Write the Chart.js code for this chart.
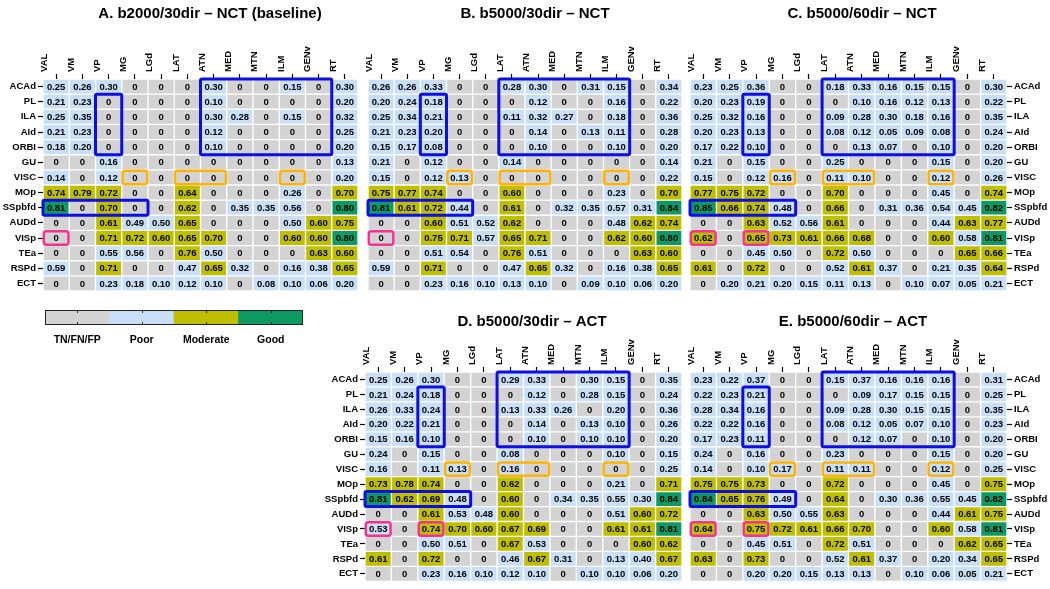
<!DOCTYPE html>
<html>
<head>
<meta charset="utf-8">
<script src="https://cdn.jsdelivr.net/npm/chart.js@4.4.1/dist/chart.umd.min.js"></script>
<style>
html,body{margin:0;padding:0;background:#fff;width:1050px;height:589px;overflow:hidden;}
canvas{position:absolute;}
</style>
</head>
<body>
<canvas id="cA" width="420" height="300" style="left:0px;top:0px;"></canvas>
<canvas id="cB" width="350" height="300" style="left:360px;top:0px;"></canvas>
<canvas id="cC" width="376" height="300" style="left:674px;top:0px;"></canvas>
<canvas id="cD" width="424" height="281" style="left:320px;top:308px;"></canvas>
<canvas id="cE" width="394" height="281" style="left:656px;top:308px;"></canvas>
<canvas id="cL" width="270" height="45" style="left:40px;top:305px;"></canvas>
<script>
// ---------- DATA ----------
const columns = ['VAL','VM','VP','MG','LGd','LAT','ATN','MED','MTN','ILM','GENv','RT'];
const rows = ['ACAd','PL','ILA','AId','ORBI','GU','VISC','MOp','SSpbfd','AUDd','VISp','TEa','RSPd','ECT'];
const legendLabels = ['TN/FN/FP','Poor','Moderate','Good'];

const titleA = 'A. b2000/30dir \u2013 NCT (baseline)';
const titleB = 'B. b5000/30dir \u2013 NCT';
const titleC = 'C. b5000/60dir \u2013 NCT';
const titleD = 'D. b5000/30dir \u2013 ACT';
const titleE = 'E. b5000/60dir \u2013 ACT';

const valuesA = [
  [0.25,0.26,0.30,0,0,0,0.30,0,0,0.15,0,0.30],
  [0.21,0.23,0,0,0,0,0.10,0,0,0,0,0.20],
  [0.25,0.35,0,0,0,0,0.30,0.28,0,0.15,0,0.32],
  [0.21,0.23,0,0,0,0,0.12,0,0,0,0,0.25],
  [0.18,0.20,0,0,0,0,0.10,0,0,0,0,0.20],
  [0,0,0.16,0,0,0,0,0,0,0,0,0.13],
  [0.14,0,0.12,0,0,0,0,0,0,0,0,0.20],
  [0.74,0.79,0.72,0,0,0.64,0,0,0,0.26,0,0.70],
  [0.81,0,0.70,0,0,0.62,0,0.35,0.35,0.56,0,0.80],
  [0,0,0.61,0.49,0.50,0.65,0,0,0,0.50,0.60,0.75],
  [0,0,0.71,0.72,0.60,0.65,0.70,0,0,0.60,0.60,0.80],
  [0,0,0.55,0.56,0,0.76,0.50,0,0,0,0.63,0.60],
  [0.59,0,0.71,0,0,0.47,0.65,0.32,0,0.16,0.38,0.65],
  [0,0,0.23,0.18,0.10,0.12,0.10,0,0.08,0.10,0.06,0.20]
];
const valuesB = [
  [0.26,0.26,0.33,0,0,0.28,0.30,0,0.31,0.15,0,0.34],
  [0.20,0.24,0.18,0,0,0,0.12,0,0,0.16,0,0.22],
  [0.25,0.34,0.21,0,0,0.11,0.32,0.27,0,0.18,0,0.36],
  [0.21,0.23,0.20,0,0,0,0.14,0,0.13,0.11,0,0.28],
  [0.15,0.17,0.08,0,0,0,0.10,0,0,0.10,0,0.20],
  [0.21,0,0.12,0,0,0.14,0,0,0,0,0,0.14],
  [0.15,0,0.12,0.13,0,0,0,0,0,0,0,0.22],
  [0.75,0.77,0.74,0,0,0.60,0,0,0,0.23,0,0.70],
  [0.81,0.61,0.72,0.44,0,0.61,0,0.32,0.35,0.57,0.31,0.84],
  [0,0,0.60,0.51,0.52,0.62,0,0,0,0.48,0.62,0.74],
  [0,0,0.75,0.71,0.57,0.65,0.71,0,0,0.62,0.60,0.80],
  [0,0,0.51,0.54,0,0.76,0.51,0,0,0,0.63,0.60],
  [0.59,0,0.71,0,0,0.47,0.65,0.32,0,0.16,0.38,0.65],
  [0,0,0.23,0.16,0.10,0.13,0.10,0,0.09,0.10,0.06,0.20]
];
const valuesC = [
  [0.23,0.25,0.36,0,0,0.18,0.33,0.16,0.15,0.15,0,0.30],
  [0.20,0.23,0.19,0,0,0,0.10,0.16,0.12,0.13,0,0.22],
  [0.25,0.32,0.16,0,0,0.09,0.28,0.30,0.18,0.16,0,0.35],
  [0.20,0.23,0.13,0,0,0.08,0.12,0.05,0.09,0.08,0,0.24],
  [0.17,0.22,0.10,0,0,0,0.13,0.07,0,0.10,0,0.20],
  [0.21,0,0.15,0,0,0.25,0,0,0,0.15,0,0.20],
  [0.15,0,0.12,0.16,0,0.11,0.10,0,0,0.12,0,0.26],
  [0.77,0.75,0.72,0,0,0.70,0,0,0,0.45,0,0.74],
  [0.85,0.66,0.74,0.48,0,0.66,0,0.31,0.36,0.54,0.45,0.82],
  [0,0,0.63,0.52,0.56,0.61,0,0,0,0.44,0.63,0.77],
  [0.62,0,0.65,0.73,0.61,0.66,0.68,0,0,0.60,0.58,0.81],
  [0,0,0.45,0.50,0,0.72,0.50,0,0,0,0.65,0.66],
  [0.61,0,0.72,0,0,0.52,0.61,0.37,0,0.21,0.35,0.64],
  [0,0.20,0.21,0.20,0.15,0.11,0.13,0,0.10,0.07,0.05,0.21]
];
const valuesD = [
  [0.25,0.26,0.30,0,0,0.29,0.33,0,0.30,0.15,0,0.35],
  [0.21,0.24,0.18,0,0,0,0.12,0,0.28,0.15,0,0.24],
  [0.26,0.33,0.24,0,0,0.13,0.33,0.26,0,0.20,0,0.36],
  [0.20,0.22,0.21,0,0,0,0.14,0,0.13,0.10,0,0.26],
  [0.15,0.16,0.10,0,0,0,0.10,0,0.10,0.10,0,0.20],
  [0.24,0,0.15,0,0,0.08,0,0,0,0.10,0,0.15],
  [0.16,0,0.11,0.13,0,0.16,0,0,0,0,0,0.25],
  [0.73,0.78,0.74,0,0,0.62,0,0,0,0.21,0,0.71],
  [0.81,0.62,0.69,0.48,0,0.60,0,0.34,0.35,0.55,0.30,0.84],
  [0,0,0.61,0.53,0.48,0.60,0,0,0,0.51,0.60,0.72],
  [0.53,0,0.74,0.70,0.60,0.67,0.69,0,0,0.61,0.61,0.81],
  [0,0,0.50,0.51,0,0.67,0.53,0,0,0,0.60,0.62],
  [0.61,0,0.72,0,0,0.46,0.67,0.31,0,0.13,0.40,0.67],
  [0,0,0.23,0.16,0.10,0.12,0.10,0,0.10,0.10,0.06,0.20]
];
const valuesE = [
  [0.23,0.22,0.37,0,0,0.15,0.37,0.16,0.16,0.16,0,0.31],
  [0.22,0.23,0.21,0,0,0,0.09,0.17,0.15,0.15,0,0.25],
  [0.28,0.34,0.16,0,0,0.09,0.28,0.30,0.15,0.15,0,0.35],
  [0.22,0.22,0.16,0,0,0.08,0.12,0.05,0.07,0.10,0,0.23],
  [0.17,0.23,0.11,0,0,0,0.12,0.07,0,0.10,0,0.20],
  [0.24,0,0.16,0,0,0.23,0,0,0,0.15,0,0.20],
  [0.14,0,0.10,0.17,0,0.11,0.11,0,0,0.12,0,0.25],
  [0.75,0.75,0.73,0,0,0.72,0,0,0,0.45,0,0.75],
  [0.84,0.65,0.76,0.49,0,0.64,0,0.30,0.36,0.55,0.45,0.82],
  [0,0,0.63,0.50,0.55,0.63,0,0,0,0.44,0.61,0.75],
  [0.64,0,0.75,0.72,0.61,0.66,0.70,0,0,0.60,0.58,0.81],
  [0,0,0.45,0.51,0,0.72,0.51,0,0,0,0.62,0.65],
  [0.63,0,0.73,0,0,0.52,0.61,0.37,0,0.20,0.34,0.65],
  [0,0,0.20,0.20,0.15,0.13,0.13,0,0.10,0.06,0.05,0.21]
];

// highlight boxes: [firstCol, lastCol, firstRow, lastRow, kind]
const boxesA = [[6,10,0,4,'blue'],[2,2,1,4,'blue'],[0,3,8,8,'blue'],[3,3,6,6,'orange'],[5,6,6,6,'orange'],[9,9,6,6,'orange'],[0,0,10,10,'pink']];
const boxesB = [[5,9,0,4,'blue'],[2,2,1,4,'blue'],[0,3,8,8,'blue'],[3,3,6,6,'orange'],[5,6,6,6,'orange'],[9,9,6,6,'orange'],[0,0,10,10,'pink']];
const boxesC = [[5,9,0,4,'blue'],[2,2,1,4,'blue'],[0,3,8,8,'blue'],[3,3,6,6,'orange'],[5,6,6,6,'orange'],[9,9,6,6,'orange'],[0,0,10,10,'pink'],[2,2,10,10,'pink']];
const boxesD = boxesC;
const boxesE = boxesC;

// ---------- STYLE ----------
const FAM = "'Liberation Sans', Arial, Helvetica, sans-serif";
const COL_NONE = '#d3d3d3', COL_POOR = '#c9dff7', COL_MOD = '#bfbf00', COL_GOOD = '#0c9a63';
const legendColors = [COL_NONE, COL_POOR, COL_MOD, COL_GOOD];
const BOXCOL = {blue:'#0d0de6', orange:'#ffb300', pink:'#f5338f'};
const BOXW = {blue:3, orange:2.5, pink:2.5};

function colorFor(v){
  if (v === 0) return COL_NONE;
  if (v < 0.6) return COL_POOR;
  if (v < 0.8) return COL_MOD;
  return COL_GOOD;
}
function fmt(v){ return v === 0 ? '0' : v.toFixed(2); }

function spacer(pos, w){
  return {
    type: 'linear', position: pos, display: true,
    afterFit: s => { s.width = w; },
    ticks: {display: false}, grid: {display: false}, border: {display: false}
  };
}

function makePanel(id, title, values, boxes, o){
  const cellText = {
    id: 'cellText',
    afterDatasetsDraw(chart){
      const ctx = chart.ctx;
      ctx.save();
      ctx.font = "bold 9.5px " + FAM;
      ctx.fillStyle = '#000';
      ctx.textAlign = 'center';
      ctx.textBaseline = 'middle';
      chart.data.datasets.forEach((ds, i) => {
        chart.getDatasetMeta(i).data.forEach((el, j) => {
          ctx.fillText(fmt(values[i][j]), el.x, (el.y + el.base) / 2 + 0.5);
        });
      });
      ctx.restore();
    },
    afterDraw(chart){
      const ctx = chart.ctx, xs = chart.scales.x, ys = chart.scales.y;
      const half = (xs.getPixelForValue(1) - xs.getPixelForValue(0)) / 2;
      ctx.save();
      boxes.forEach(b => {
        const [c0, c1, r0, r1, kind] = b;
        const x0 = xs.getPixelForValue(c0) - half;
        const x1 = xs.getPixelForValue(c1) + half;
        const y0 = ys.getPixelForValue(r0 - 0.5);
        const y1 = ys.getPixelForValue(r1 + 0.5);
        ctx.strokeStyle = BOXCOL[kind];
        ctx.lineWidth = BOXW[kind];
        const ins = kind === 'blue' ? 0 : 0.8;
        ctx.beginPath();
        ctx.roundRect(x0 + ins, y0 + ins, x1 - x0 - 2 * ins, y1 - y0 - 2 * ins, kind === 'blue' ? 1.5 : 2.5);
        ctx.stroke();
      });
      ctx.restore();
    }
  };
  const font = {family: FAM, size: 9.5, weight: 'bold'};
  const scales = {
    x: {
      type: 'category',
      position: 'top',
      offset: true,
      afterFit: s => { s.height = o.xH; },
      ticks: {minRotation: 90, maxRotation: 90, autoSkip: false, font, color: '#000', padding: 2},
      grid: {drawOnChartArea: false, offset: false, tickLength: 5, tickColor: '#000', tickWidth: 1.2},
      border: {display: false}
    },
    y: {
      type: 'linear',
      min: -0.5, max: 13.5,
      reverse: true,
      display: o.side !== 'none',
      position: o.side === 'right' ? 'right' : 'left',
      afterBuildTicks: s => { s.ticks = rows.map((_, i) => ({value: i})); },
      afterFit: s => { s.width = o.yW; },
      ticks: {autoSkip: false, font, color: '#000', padding: 2, callback: v => rows[v]},
      grid: {drawOnChartArea: false, tickLength: 5, tickColor: '#000', tickWidth: 1.2},
      border: {display: false}
    }
  };
  if (o.padL) scales.yPadL = spacer('left', o.padL);
  if (o.padR) scales.yPadR = spacer('right', o.padR);
  return new Chart(document.getElementById(id), {
    type: 'bar',
    data: {
      labels: columns,
      datasets: rows.map((r, i) => ({
        label: r,
        data: values[i].map(() => [i - 0.5, i + 0.5]),
        backgroundColor: values[i].map(colorFor),
        borderColor: '#ffffff',
        borderWidth: 1,
        borderSkipped: false,
        barPercentage: 1,
        categoryPercentage: 1,
        grouped: false
      }))
    },
    options: {
      responsive: false,
      animation: false,
      devicePixelRatio: 1,
      events: [],
      layout: {padding: {left: 0, right: 0, top: 0, bottom: o.padB}},
      plugins: {
        legend: {display: false},
        tooltip: {enabled: false},
        title: {display: true, text: title, color: '#000', font: {family: FAM, size: 15, weight: 'bold'}, padding: {top: 5, bottom: 0}}
      },
      scales
    },
    plugins: [cellText]
  });
}

makePanel('cA', titleA, valuesA, boxesA, {side: 'left', yW: 43, xH: 56, padL: 0, padR: 62, padB: 9});
makePanel('cB', titleB, valuesB, boxesB, {side: 'none', yW: 0, xH: 56, padL: 8, padR: 28, padB: 9});
makePanel('cC', titleC, valuesC, boxesC, {side: 'right', yW: 43, xH: 56, padL: 16, padR: 0, padB: 9});
makePanel('cD', titleD, valuesD, boxesD, {side: 'left', yW: 45, xH: 41, padL: 0, padR: 62, padB: 5});
makePanel('cE', titleE, valuesE, boxesE, {side: 'right', yW: 43, xH: 41, padL: 34, padR: 0, padB: 5});

// ---------- LEGEND COLOR BAR ----------
const barFrame = {
  id: 'barFrame',
  afterDatasetsDraw(chart){
    const {ctx, chartArea: a} = chart;
    const xs = chart.scales.x;
    ctx.save();
    ctx.strokeStyle = '#222';
    ctx.lineWidth = 1;
    ctx.strokeRect(a.left + 0.5, a.top + 0.5, a.right - a.left - 1, a.bottom - a.top - 1);
    ctx.beginPath();
    for (let i = 0; i < legendLabels.length; i++){
      const px = Math.round(xs.getPixelForTick(i)) + 0.5;
      ctx.moveTo(px, a.top); ctx.lineTo(px, a.top + 3);
      ctx.moveTo(px, a.bottom); ctx.lineTo(px, a.bottom - 3);
    }
    ctx.stroke();
    ctx.restore();
  }
};
new Chart(document.getElementById('cL'), {
  type: 'bar',
  data: {
    labels: legendLabels,
    datasets: [{data: legendLabels.map(() => 1), backgroundColor: legendColors, barPercentage: 1, categoryPercentage: 1, borderWidth: 0}]
  },
  options: {
    responsive: false, animation: false, devicePixelRatio: 1, events: [],
    layout: {padding: {left: 5, right: 7, top: 5, bottom: 0}},
    plugins: {legend: {display: false}, tooltip: {enabled: false}},
    scales: {
      x: {
        position: 'bottom',
        afterFit: s => { s.height = 25; },
        grid: {display: false},
        border: {display: false},
        ticks: {font: {family: FAM, size: 10.5, weight: 'bold'}, color: '#000', padding: 1, maxRotation: 0}
      },
      y: {display: false, min: 0, max: 1}
    }
  },
  plugins: [barFrame]
});
</script>
</body>
</html>
